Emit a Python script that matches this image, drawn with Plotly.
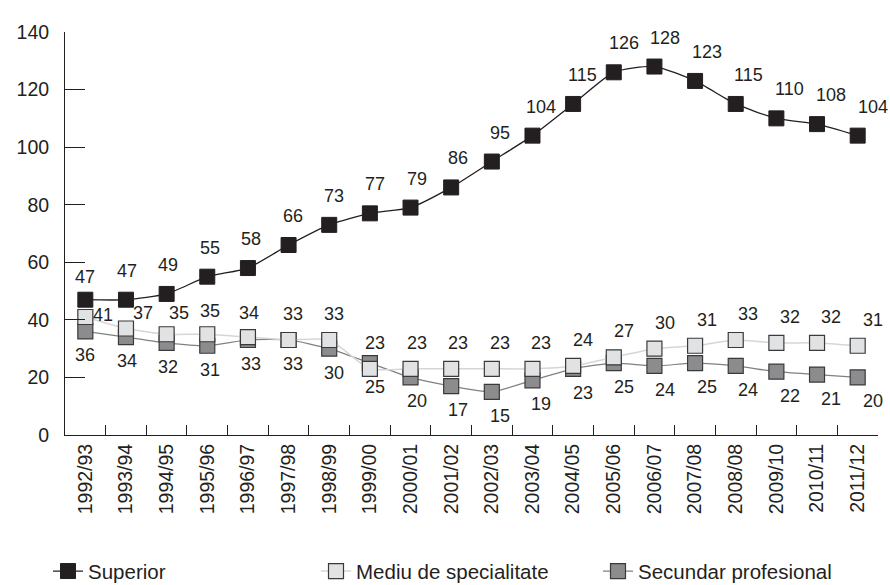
import plotly.graph_objects as go

years = ["1992/93", "1993/94", "1994/95", "1995/96", "1996/97", "1997/98", "1998/99",
         "1999/00", "2000/01", "2001/02", "2002/03", "2003/04", "2004/05", "2005/06",
         "2006/07", "2007/08", "2008/08", "2009/10", "2010/11", "2011/12"]
superior = [47, 47, 49, 55, 58, 66, 73, 77, 79, 86, 95, 104, 115, 126, 128, 123, 115, 110, 108, 104]
mediu = [41, 37, 35, 35, 34, 33, 33, 23, 23, 23, 23, 23, 24, 27, 30, 31, 33, 32, 32, 31]
secundar = [36, 34, 32, 31, 33, 33, 30, 25, 20, 17, 15, 19, 23, 25, 24, 25, 24, 22, 21, 20]
y_ticks = [0, 20, 40, 60, 80, 100, 120, 140]

INK = "#231f20"
FONT = "Liberation Sans, Arial, sans-serif"

fig = go.Figure()

fig.add_trace(go.Scatter(
    x=years, y=secundar, name="Secundar profesional", mode="lines+markers",
    line=dict(color="#808080", width=1.2, shape="spline", smoothing=0.6),
    marker=dict(symbol="square", size=15, color="#8c8c8e", line=dict(color="#3a3a3a", width=1.2)),
    legend="legend3", cliponaxis=False,
))
fig.add_trace(go.Scatter(
    x=years, y=mediu, name="Mediu de specialitate", mode="lines+markers",
    line=dict(color="#d6d6d6", width=1.5, shape="spline", smoothing=0.6),
    marker=dict(symbol="square", size=15, color="#e1e2e3", line=dict(color="#3a3a3a", width=1.2)),
    legend="legend2", cliponaxis=False,
))
fig.add_trace(go.Scatter(
    x=years, y=superior, name="Superior", mode="lines+markers",
    line=dict(color=INK, width=1.3, shape="spline", smoothing=0.6),
    marker=dict(symbol="square", size=15, color=INK, line=dict(color=INK, width=1)),
    legend="legend", cliponaxis=False,
))

# data labels
def add_labels(vals, dy, overrides=None):
    overrides = overrides or {}
    for i, (cat, v) in enumerate(zip(years, vals)):
        dx = i * 0.79
        ddy = dy
        if i in overrides:
            dx, ddy = overrides[i]
        fig.add_annotation(x=cat, y=v, text=str(v), showarrow=False,
                           xshift=dx, yshift=ddy, xanchor="center", yanchor="middle",
                           font=dict(size=18, color=INK, family=FONT))

add_labels(superior, 29, {0: (0, 23)})
add_labels(mediu, 26, {0: (18, 2), 1: (17, 15), 2: (12, 21), 3: (3, 23), 4: (1, 24)})
add_labels(secundar, -24)

leg_common = dict(orientation="h", yanchor="middle", xanchor="left", y=-0.338,
                  font=dict(size=20.5, color=INK, family=FONT), bgcolor="rgba(0,0,0,0)",
                  itemwidth=30)

fig.update_layout(
    width=890, height=585,
    margin=dict(l=65, r=12, t=32, b=150, autoexpand=False),
    plot_bgcolor="white", paper_bgcolor="white",
    font=dict(family=FONT, color=INK, size=18),
    showlegend=True,
    legend=dict(x=(48 - 65) / 813, **leg_common),
    legend2=dict(x=(316 - 65) / 813, **leg_common),
    legend3=dict(x=(598 - 65) / 813, **leg_common),
    xaxis=dict(type="category", categoryorder="array", categoryarray=years,
               range=[-0.5, len(years) - 0.5], tickson="boundaries",
               ticks="inside", ticklen=10, tickcolor=INK, tickwidth=1,
               showline=True, linecolor=INK, linewidth=1, showgrid=False, automargin=False,
               tickangle=-90, tickfont=dict(size=19.5, color=INK, family=FONT)),
    yaxis=dict(range=[0, 140], tickvals=y_ticks, ticks="inside", ticklen=20,
               tickcolor=INK, tickwidth=1, showline=True, linecolor=INK, linewidth=1,
               showgrid=False, zeroline=False, automargin=False, ticklabelstandoff=11,
               tickfont=dict(size=19.5, color=INK, family=FONT)),
)

fig.write_html("out.html", config={"displayModeBar": False},
               post_script="document.body.style.margin='0';")
